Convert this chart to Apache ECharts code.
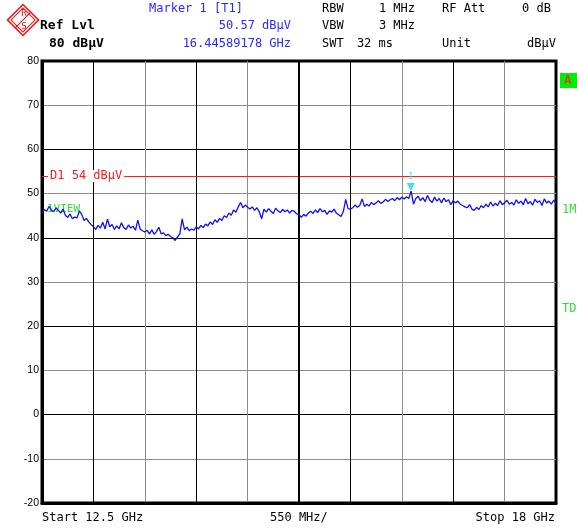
<!DOCTYPE html>
<html>
<head>
<meta charset="utf-8">
<script src="https://cdn.jsdelivr.net/npm/echarts@6/dist/echarts.min.js"></script>
<style>
  html, body { margin: 0; padding: 0; background: #fff; }
  #chart { width: 577px; height: 528px; }
</style>
</head>
<body>
<div id="chart"></div>
<script>
// Sweep settings
const startGHz = 12.5;
const stopGHz = 18;
const spanPerDivGHz = 0.55;
const sweepPoints = 221;

// Level axis (dBµV)
const levelMin = -20;
const levelMax = 80;
const levelStep = 10;

// Display line D1
const displayLine = 54;

// Marker 1
const markerFreqGHz = 16.44589178;
const markerLevel = 50.57;

// Trace 1 levels in dBµV, one per sweep point
const traceLevels = [
  45.6, 46.4, 46.0, 47.1, 46.3, 45.9, 46.8, 46.2, 45.6, 46.5,
  45.1, 44.6, 45.4, 44.3, 44.7, 44.5, 46.1, 45.3, 43.9, 44.4,
  43.6, 43.0, 42.5, 41.9, 42.8, 42.2, 43.5, 42.0, 44.2, 42.5,
  43.0, 41.9, 42.7, 42.0, 43.4, 42.3, 41.9, 42.9, 42.2, 42.6,
  41.7, 44.0, 42.0, 41.6, 41.3, 41.7, 40.9, 41.8, 40.8, 41.4,
  42.4, 40.9, 41.1, 40.5, 40.8, 40.3, 40.0, 39.4, 40.2, 40.9,
  44.3, 41.8, 42.4, 41.6, 42.0, 41.7, 42.5, 42.0, 42.8, 42.3,
  43.1, 42.7, 43.6, 43.0, 44.1, 43.5, 44.4, 43.9, 45.0, 44.6,
  45.6, 45.1, 46.3, 45.8, 47.0, 48.0, 46.8, 47.4, 46.9, 46.5,
  47.0, 46.2, 46.8, 45.9, 44.3, 46.5, 45.8, 46.6, 46.0, 45.5,
  46.7, 46.1, 45.7, 46.4, 45.9, 46.3, 45.6, 46.2, 46.0, 45.4,
  45.3, 44.6, 45.3, 44.9, 45.6, 46.0, 45.5, 46.3, 45.7, 46.6,
  45.9, 46.2, 45.3, 46.1, 45.8, 46.5, 45.6, 45.2, 44.8, 46.0,
  48.7, 46.6, 46.5, 46.8, 47.4, 46.9, 47.3, 48.8, 47.1, 47.6,
  47.2, 48.0, 47.5, 47.9, 48.4, 47.8, 48.1, 48.7, 48.2, 48.6,
  48.9, 48.4, 49.1, 48.6, 49.2, 48.8, 49.3, 48.9, 50.57, 47.6,
  48.9, 49.4, 48.4, 49.1, 48.2, 49.6, 48.5, 48.0, 49.2, 48.3,
  48.9, 47.9, 49.0, 48.2, 48.6, 47.5, 48.4, 47.9, 48.3, 47.6,
  47.3, 47.0, 46.8, 47.5, 46.5, 46.2, 46.9, 46.4, 47.3, 46.8,
  47.6, 47.0, 48.1, 47.2, 47.8, 47.3, 48.4, 47.5, 47.9, 48.5,
  47.6, 48.0, 47.4, 48.6, 47.8, 48.3, 47.5, 48.9, 47.7, 48.2,
  47.4, 48.7, 48.0, 48.4, 47.3, 48.8, 47.9, 48.3, 47.6, 48.5,
  47.8
];

// Frequency of each sweep point (evenly spaced across the span)
const sweepStep = (stopGHz - startGHz) / (sweepPoints - 1);
const traceData = traceLevels.map((v, i) => [startGHz + i * sweepStep, v]);

const MONO = '"DejaVu Sans Mono", "Liberation Mono", monospace';
const BLUE = '#2a2aff';
const GRAY = '#8c8c8c';

function txt(x, y, text, opts) {
  opts = opts || {};
  return {
    type: 'text', x: x, y: y, z: 10,
    style: {
      text: text,
      fill: opts.fill || '#000',
      font: (opts.bold ? 'bold ' : '') + (opts.size || 12) + 'px ' + MONO,
      textAlign: opts.align || 'left',
      textVerticalAlign: 'middle'
    }
  };
}

const chart = echarts.init(document.getElementById('chart'), null, { renderer: 'canvas' });

const option = {
  animation: false,
  backgroundColor: '#fff',
  grid: {
    left: 42, top: 61, right: 21, bottom: 25,
    show: true, borderColor: '#000', borderWidth: 3, backgroundColor: 'transparent'
  },
  xAxis: {
    type: 'value',
    min: startGHz, max: stopGHz, interval: spanPerDivGHz,
    axisLine: { show: true, onZero: false, lineStyle: { color: '#000', width: 3 } },
    axisTick: { show: false },
    axisLabel: { show: false },
    splitLine: {
      show: true,
      lineStyle: {
        width: 1,
        color: ['#000', '#000', GRAY, '#000', GRAY, '#000', '#000', GRAY, '#000', GRAY, '#000']
      }
    }
  },
  yAxis: {
    type: 'value',
    min: levelMin, max: levelMax, interval: levelStep,
    axisLine: { show: true, onZero: false, lineStyle: { color: '#000', width: 3 } },
    axisTick: { show: false },
    axisLabel: {
      color: '#000', fontSize: 10.5, margin: 3,
      fontFamily: '"Liberation Sans", Arial, sans-serif'
    },
    splitLine: { show: true, lineStyle: { width: 1, color: ['#000', GRAY] } }
  },
  series: [
    {
      type: 'line',
      data: traceData,
      showSymbol: false,
      symbol: 'none',
      z: 5,
      lineStyle: { color: '#1010f0', width: 1.3 },
      markLine: {
        silent: true,
        symbol: ['none', 'none'],
        data: [
          {
            yAxis: displayLine,
            lineStyle: { color: '#ff1a1a', width: 1, type: 'solid' },
            label: {
              show: true,
              position: 'insideStart',
              formatter: 'D1 ' + displayLine + ' dBµV',
              color: '#ff1a1a',
              fontFamily: MONO,
              fontSize: 12,
              backgroundColor: '#fff',
              padding: [0, 2],
              distance: 6
            }
          },
          {
            xAxis: (startGHz + stopGHz) / 2,
            lineStyle: { color: '#000', width: 2, type: 'solid' },
            label: { show: false }
          }
        ]
      },
      markPoint: {
        silent: true,
        data: [
          {
            coord: [markerFreqGHz, markerLevel],
            symbol: 'triangle',
            symbolRotate: 180,
            symbolSize: [8, 8],
            symbolOffset: [0, -4],
            itemStyle: { color: '#3fe0e8' },
            label: {
              show: true,
              position: 'top',
              distance: 2,
              formatter: '1',
              color: '#3fe0e8',
              fontSize: 8,
              fontFamily: MONO
            }
          }
        ]
      }
    }
  ],
  graphic: [
    // R&S logo
    {
      type: 'group', x: 23, y: 20, rotation: Math.PI / 4, z: 10,
      children: [
        { type: 'rect', shape: { x: -11, y: -11, width: 22, height: 22 },
          style: { fill: 'none', stroke: '#f01010', lineWidth: 1.5 } },
        { type: 'rect', shape: { x: -8.5, y: -8.5, width: 17, height: 17 },
          style: { fill: 'none', stroke: '#f01010', lineWidth: 1 } },
        { type: 'line', shape: { x1: -11, y1: 0, x2: 11, y2: 0 },
          style: { stroke: '#f01010', lineWidth: 1 } }
      ]
    },
    { type: 'text', x: 24, y: 14, z: 11, style: { text: 'R', fill: '#f01010', font: '9px ' + MONO, textAlign: 'center', textVerticalAlign: 'middle' } },
    { type: 'text', x: 24, y: 27, z: 11, style: { text: 'S', fill: '#f01010', font: '9px ' + MONO, textAlign: 'center', textVerticalAlign: 'middle' } },

    txt(40, 26, 'Ref Lvl', { bold: true, size: 13 }),
    txt(49, 44, levelMax + ' dBµV', { bold: true, size: 13 }),

    txt(149, 9, 'Marker 1 [T1]', { fill: BLUE }),
    txt(291, 26, markerLevel.toFixed(2) + ' dBµV', { fill: BLUE, align: 'right' }),
    txt(291, 44, markerFreqGHz.toFixed(8) + ' GHz', { fill: BLUE, align: 'right' }),

    txt(322, 9, 'RBW'),
    txt(415, 9, '1 MHz', { align: 'right' }),
    txt(442, 9, 'RF Att'),
    txt(551, 9, '0 dB', { align: 'right' }),
    txt(322, 26, 'VBW'),
    txt(415, 26, '3 MHz', { align: 'right' }),
    txt(322, 44, 'SWT'),
    txt(393, 44, '32 ms', { align: 'right' }),
    txt(442, 44, 'Unit'),
    txt(556, 44, 'dBµV', { align: 'right' }),

    txt(42, 518, 'Start ' + startGHz + ' GHz'),
    txt(270, 518, (spanPerDivGHz * 1000) + ' MHz/'),
    txt(555, 518, 'Stop ' + stopGHz + ' GHz', { align: 'right' }),

    // right-hand annotations
    { type: 'rect', shape: { x: 560, y: 73, width: 17, height: 15 }, z: 10, style: { fill: '#00ee00' } },
    txt(564, 81, 'A', { fill: '#ff2020' }),
    txt(562, 210, '1MA', { fill: '#33dd33' }),
    txt(562, 309, 'TDF', { fill: '#33dd33' }),

    // trace label inside the grid, drawn beneath the trace
    { type: 'text', x: 47, y: 209, z: 0,
      style: { text: '1VIEW', fill: '#33dd33', font: '11px ' + MONO, textVerticalAlign: 'middle' } }
  ]
};

chart.setOption(option);
</script>
</body>
</html>
